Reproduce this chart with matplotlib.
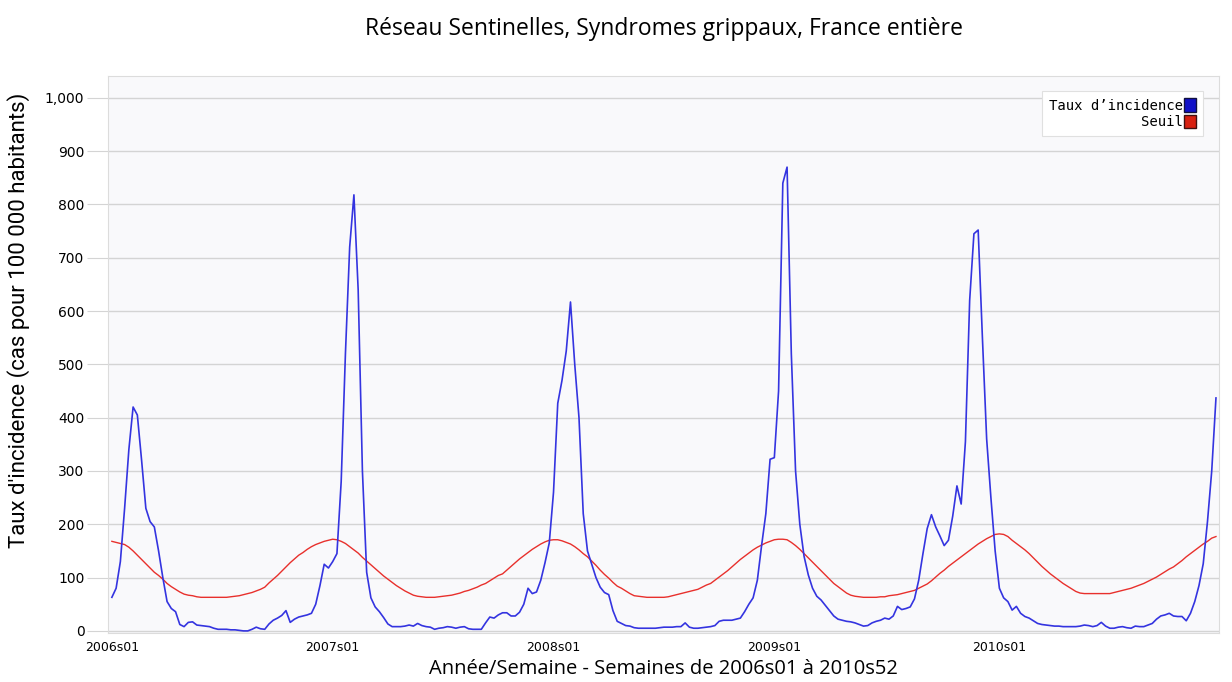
import matplotlib
matplotlib.use("Agg")
import matplotlib.pyplot as plt
import matplotlib.ticker as mtick
from matplotlib.patches import Patch

# weekly values, 2006s01 .. 2010s52 (2009 has 53 weeks)
taux_2006 = [63, 80, 130, 230, 340, 420, 405, 320, 230, 205, 195, 150, 100, 55, 42, 36, 12, 8, 16, 17,
             11, 10, 9, 8, 5, 3, 3, 3, 2, 2, 1, 0, 0, 3, 7, 4, 3, 13, 20, 24,
             29, 38, 16, 22, 26, 28, 30, 33, 50, 85, 125, 118]
taux_2007 = [130, 145, 280, 520, 720, 818, 640, 300, 110, 62, 45, 36, 25, 13, 8, 8, 8, 9, 11, 9,
             14, 10, 8, 7, 3, 5, 6, 8, 7, 5, 7, 8, 4, 3, 3, 3, 15, 26, 24, 30,
             34, 34, 28, 28, 35, 50, 80, 70, 73, 95, 128, 165]
taux_2008 = [260, 427, 470, 525, 617, 500, 400, 220, 150, 125, 100, 82, 72, 68, 38, 18, 14, 10, 9, 6,
             5, 5, 5, 5, 5, 6, 7, 7, 7, 8, 8, 15, 7, 5, 5, 6, 7, 8, 10, 18,
             20, 20, 20, 22, 24, 36, 50, 62, 95, 160, 220, 322]
taux_2009 = [325, 450, 840, 870, 520, 300, 200, 140, 105, 80, 65, 58, 48, 38, 28, 22, 20, 18, 17, 15,
             12, 9, 10, 15, 18, 20, 24, 22, 28, 46, 40, 42, 45, 60, 95, 145, 192, 218, 195, 178,
             160, 170, 215, 272, 238, 355, 620, 745, 752, 550, 360, 250, 150]
taux_2010 = [80, 62, 55, 39, 46, 33, 27, 24, 19, 14, 12, 11, 10, 9, 9, 8, 8, 8, 8, 9,
             11, 10, 8, 10, 16, 9, 5, 5, 7, 8, 6, 5, 9, 8, 8, 11, 14, 22, 28, 30,
             33, 28, 27, 27, 19, 33, 55, 85, 126, 205, 300, 437]

seuil_2006 = [168, 166, 164, 162, 157, 150, 142, 134, 126, 118, 110, 104, 97, 89, 83, 78, 73, 69, 67, 66,
              64, 63, 63, 63, 63, 63, 63, 63, 64, 65, 66, 68, 70, 72, 75, 78, 82, 90, 97, 104,
              112, 120, 128, 135, 142, 147, 153, 158, 162, 165, 168, 170]
seuil_2007 = [172, 171, 168, 164, 158, 152, 146, 138, 131, 124, 117, 110, 103, 97, 91, 85, 80, 75, 71, 67,
              65, 64, 63, 63, 63, 64, 65, 66, 67, 69, 71, 74, 76, 79, 82, 86, 89, 94, 99, 104,
              107, 114, 121, 128, 135, 141, 147, 153, 158, 163, 167, 170]
seuil_2008 = [171, 171, 169, 166, 163, 158, 152, 145, 139, 131, 123, 114, 106, 99, 91, 84, 80, 75, 70, 66,
              65, 64, 63, 63, 63, 63, 63, 64, 66, 68, 70, 72, 74, 76, 78, 82, 86, 89, 95, 101,
              107, 113, 120, 127, 134, 140, 146, 152, 157, 161, 165, 168]
seuil_2009 = [171, 172, 172, 171, 166, 160, 153, 145, 137, 129, 121, 113, 105, 97, 89, 83, 77, 71, 67, 65,
              64, 63, 63, 63, 63, 64, 64, 66, 67, 68, 70, 72, 74, 76, 80, 84, 88, 94, 101, 108,
              114, 121, 127, 133, 139, 145, 151, 157, 163, 168, 173, 177, 181]
seuil_2010 = [182, 181, 177, 170, 164, 158, 152, 145, 137, 129, 121, 114, 107, 101, 95, 89, 84, 79, 74, 71,
              70, 70, 70, 70, 70, 70, 70, 72, 74, 76, 78, 80, 83, 86, 89, 93, 97, 101, 106, 111,
              116, 120, 126, 132, 139, 145, 151, 157, 163, 168, 174, 177]

tick_labels = ["2006s01", "2007s01", "2008s01", "2009s01", "2010s01"]

taux = taux_2006 + taux_2007 + taux_2008 + taux_2009 + taux_2010
seuil = seuil_2006 + seuil_2007 + seuil_2008 + seuil_2009 + seuil_2010
weeks = list(range(len(taux)))
tick_pos = [0, 52, 104, 156, 209]

fig = plt.figure(figsize=(12.32, 6.82), dpi=100)
ax = fig.add_axes([0.0877, 0.0718, 0.9017, 0.8168])
ax.set_facecolor("#f9f9fb")

ax.plot(weeks, seuil, color="#e8302c", linewidth=1.0, zorder=3)
ax.plot(weeks, taux, color="#3434e0", linewidth=1.2, zorder=4)

ax.set_xlim(-0.9, 260.7)
ax.set_ylim(-4, 1041)
ax.set_yticks(range(0, 1001, 100))
ax.yaxis.set_major_formatter(mtick.FuncFormatter(lambda v, p: f"{int(v):,}"))
ax.set_xticks(tick_pos)
ax.set_xticklabels(tick_labels)
ax.grid(True, axis="y", color="#d4d4d4", linewidth=1.0, zorder=1)
ax.tick_params(axis="y", length=15, color="#d4d4d4", labelsize=10, pad=2)
ax.tick_params(axis="x", length=0, labelsize=9, pad=6)
for s in ax.spines.values():
    s.set_color("#dcdcdc")

fig.suptitle("Réseau Sentinelles, Syndromes grippaux, France entière",
             x=0.539, y=0.975, fontsize=16.5, family="Open Sans")
ax.set_ylabel("Taux d'incidence (cas pour 100 000 habitants)", fontsize=16,
              family="Roboto")
ax.yaxis.set_label_coords(-0.070, 0.562)
ax.set_xlabel("Année/Semaine - Semaines de 2006s01 à 2010s52", fontsize=14.5,
              family="Open Sans", labelpad=3)

handles = [Patch(facecolor="#1010c8", edgecolor="#101040", label="Taux d\u2019incidence"),
           Patch(facecolor="#d82010", edgecolor="#401010", label="Seuil")]
leg = ax.legend(handles=handles, loc="upper right", markerfirst=False, handlelength=0.8,
                handleheight=1.1, handletextpad=0.1, labelspacing=0.15, borderpad=0.5,
                fancybox=False, framealpha=1.0, edgecolor="#e0e0e0",
                prop={"family": "DejaVu Sans Mono", "size": 10}, bbox_to_anchor=(0.9915, 0.985))
leg.get_frame().set_linewidth(0.8)
for t in leg.get_texts():
    t.set_ha("right")

fig.savefig("out.png", dpi=100, facecolor="white")
